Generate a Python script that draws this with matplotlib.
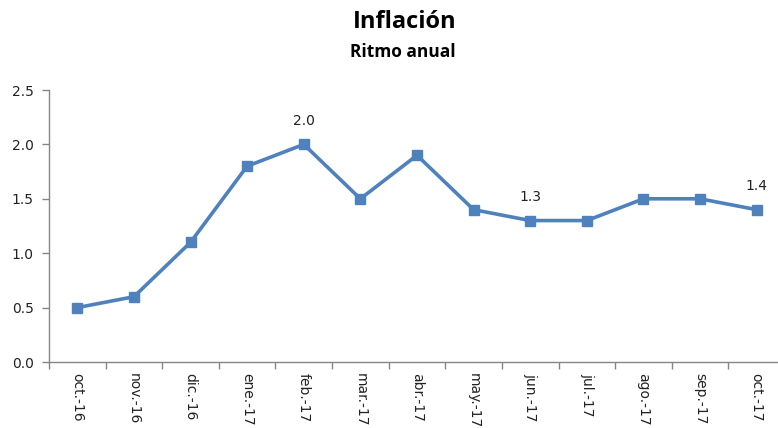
import matplotlib.pyplot as plt
import numpy as np

meses = ['oct.-16', 'nov.-16', 'dic.-16', 'ene.-17', 'feb.-17', 'mar.-17', 'abr.-17',
         'may.-17', 'jun.-17', 'jul.-17', 'ago.-17', 'sep.-17', 'oct.-17']
inflacion = [0.5, 0.6, 1.1, 1.8, 2.0, 1.5, 1.9, 1.4, 1.3, 1.3, 1.5, 1.5, 1.4]
etiquetas = {4: '2.0', 8: '1.3', 12: '1.4'}

azul = '#4F81BD'
gris = '#868686'

fig = plt.figure(figsize=(7.78, 4.28), dpi=100)
# el eje se sale un poco por la derecha, como en el original
ax = fig.add_axes([49 / 778, 1 - 362 / 428, 736 / 778, 272 / 428])

x = np.arange(len(meses))
ax.plot(x, inflacion, color=azul, lw=2.6, marker='s', markersize=7.5, zorder=3)

for i, txt in etiquetas.items():
    ax.annotate(txt, (x[i], inflacion[i]), xytext=(0, 12), textcoords='offset points',
                ha='center', va='bottom', fontsize=10, color='#222222')

ax.set_xlim(-0.5, len(meses) - 0.5)
ax.set_ylim(0, 2.5)
ax.set_yticks(np.arange(0, 2.51, 0.5))
ax.set_yticklabels([f'{v:.1f}' for v in np.arange(0, 2.51, 0.5)], fontsize=10, color='#222222')

# ticks de categoria entre meses, etiquetas en el centro
ax.set_xticks(np.arange(-0.5, len(meses), 1.0))
ax.set_xticklabels([])
ax.set_xticks(x, minor=True)
ax.set_xticklabels(meses, minor=True, rotation=270, fontsize=10, color='#222222',
                   va='top', ha='center')
ax.tick_params(axis='x', which='minor', length=0, pad=8)
ax.tick_params(axis='x', which='major', length=5, color=gris, width=1)
ax.tick_params(axis='y', length=5, color=gris, width=1, pad=6)

for s in ['top', 'right']:
    ax.spines[s].set_visible(False)
for s in ['left', 'bottom']:
    ax.spines[s].set_color(gris)
    ax.spines[s].set_linewidth(1)

fig.text(405 / 778, 1 - 22 / 428, 'Inflación', ha='center', va='center',
         fontsize=17, fontweight='bold', family='Open Sans')
fig.text(403 / 778, 1 - 52 / 428, 'Ritmo anual', ha='center', va='center',
         fontsize=12.5, fontweight='bold', family='Open Sans')

fig.savefig('out.png', dpi=100)
